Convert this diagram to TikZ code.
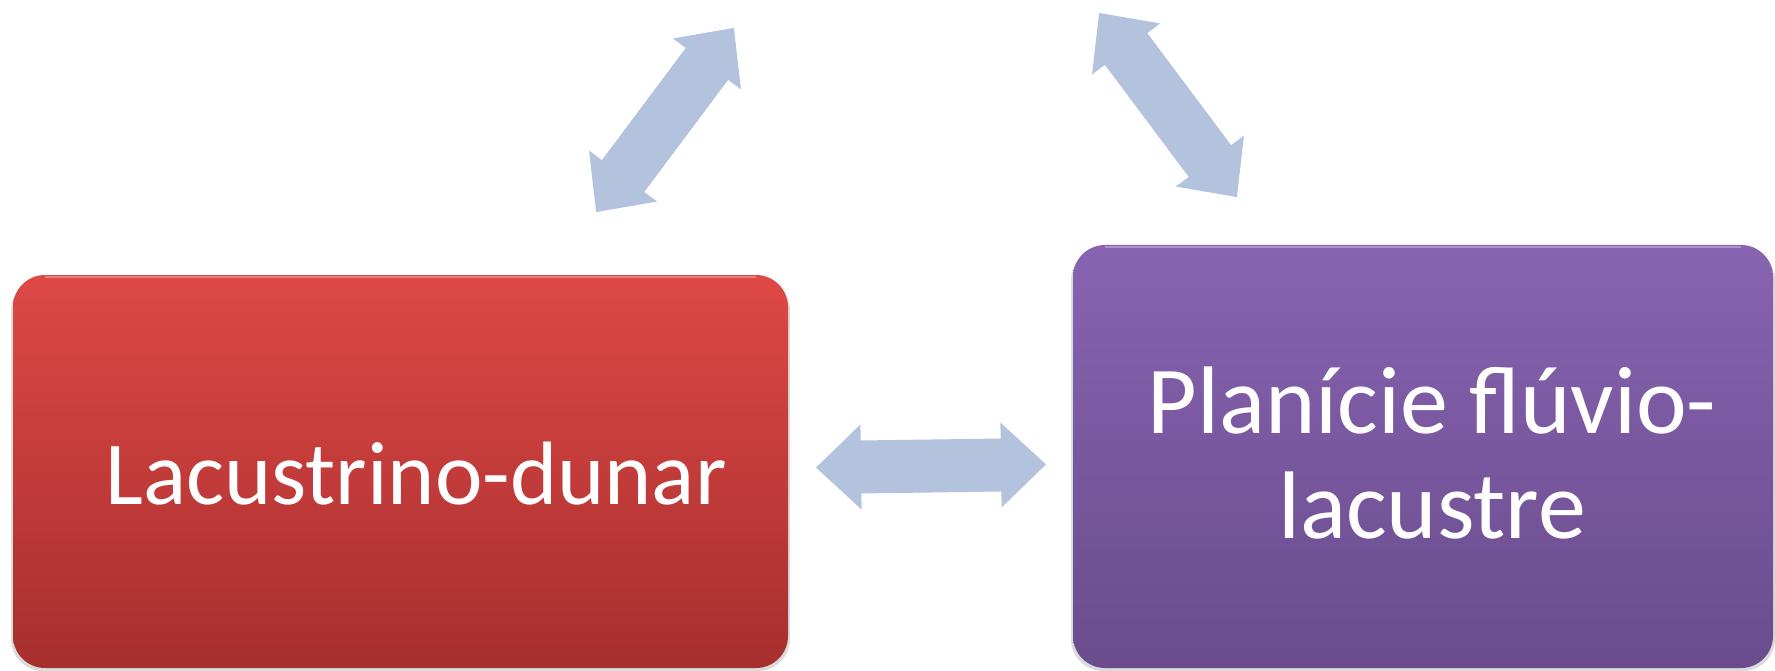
\documentclass[tikz,border=0pt]{standalone}
\usepackage{fontspec}
\setmainfont{Carlito}
\definecolor{redtop}{RGB}{222,72,69}
\definecolor{redbot}{RGB}{166,47,46}
\definecolor{purtop}{RGB}{136,99,177}
\definecolor{purbot}{RGB}{106,76,141}
\definecolor{arrowblue}{RGB}{179,194,221}
\tikzset{
  boxbase/.style={rounded corners=32pt, draw=none},
  redbox/.style={boxbase, top color=redtop, bottom color=redbot},
  purbox/.style={boxbase, top color=purtop, bottom color=purbot},
  boxtext/.style={text=white, align=center, inner sep=0pt},
  dblarrow/.style={fill=arrowblue, draw=none},
  shadowbox/.style={rounded corners=32pt, fill=black!35, draw=none}
}
\newcommand{\dblarrowpath}[3]{%
  \begin{scope}[shift={#1}, rotate=#2]
    \path[dblarrow] (-115,0) -- (-70,42.5) -- (-70,26.5) -- (70,26.5) -- (70,42.5) -- (115,0)
      -- (70,-42.5) -- (70,-26.5) -- (-70,-26.5) -- (-70,-42.5) -- cycle;
    \coordinate (#3) at (0,0);
  \end{scope}}
\begin{document}
\begin{tikzpicture}[x=1pt,y=-1pt]
\useasboundingbox (0,0) rectangle (1775,671);
% shadows
\fill[shadowbox, opacity=0.4] (11,279) rectangle (790,671);
\fill[shadowbox, opacity=0.4] (1071,248) rectangle (1775,671);
% boxes
\path[redbox] (13,275) rectangle (788,668);
\path[purbox] (1073,245) rectangle (1773,668);
% top highlight
\draw[white, opacity=0.3, line width=2pt] (45,277) -- (756,277);
\draw[white, opacity=0.3, line width=2pt] (1105,247) -- (1741,247);
\node[boxtext, font=\fontsize{90}{105}\selectfont] (lac) at (416,474) {Lacustrino-dunar};
\node[boxtext, font=\fontsize{96}{105}\selectfont, anchor=base] (pla) at (1432,538) {Planície flúvio-\\lacustre};
% arrows
\dblarrowpath{(931,466)}{0.8}{ah}
\dblarrowpath{(665,120)}{53.2}{aul}
\dblarrowpath{(1168,105)}{-53.2}{aur}
\end{tikzpicture}
\end{document}
